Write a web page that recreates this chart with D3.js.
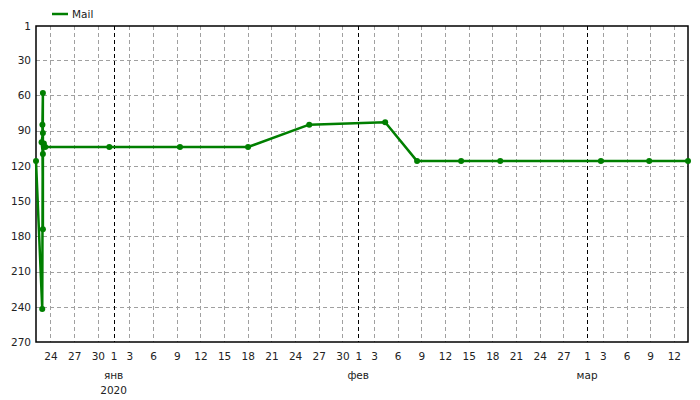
<!DOCTYPE html>
<html>
<head>
<meta charset="utf-8">
<script src="https://cdn.jsdelivr.net/npm/d3@7"></script>
<style>
  body { margin: 0; background: #fff; }
  svg { display: block; font-family: 'DejaVu Sans', Verdana, sans-serif; }
</style>
</head>
<body>
<svg width="700" height="400"></svg>
<script>
// Series "Mail": timestamps (UTC) and values, in drawing order
var dates = [
    "2019-12-22T04:00", "2019-12-22T23:00", "2019-12-23T01:00", "2019-12-22T23:30",
    "2019-12-23T01:00", "2019-12-23T01:00", "2019-12-22T21:00", "2019-12-23T01:00",
    "2019-12-23T04:00", "2019-12-23T08:00", "2019-12-31T11:00", "2020-01-09T10:00",
    "2020-01-18T01:00", "2020-01-25T19:00", "2020-02-04T10:00", "2020-02-08T11:00",
    "2020-02-14T01:00", "2020-02-19T00:00", "2020-03-02T18:00", "2020-03-08T21:00",
    "2020-03-13T19:00"
];
var values = [116, 242, 58, 85, 174, 92, 100, 110, 101, 104, 104, 104,
              104, 85, 83, 116, 116, 116, 116, 116, 116];

// Axis labels
var yTicks = [1, 30, 60, 90, 120, 150, 180, 210, 240, 270];
var monthNames = ["янв", "фев", "мар", "апр", "май", "июн",
                  "июл", "авг", "сен", "окт", "ноя", "дек"];
var seriesName = "Mail";

var parse = d3.utcParse("%Y-%m-%dT%H:%M");
var data = dates.map(function(d, i) { return { date: parse(d), value: values[i] }; });

var svg = d3.select('svg');
var plotLeft = 36, plotRight = 688, plotTop = 26, plotBottom = 342;
var green = '#007f00';
var labelColor = '#222';

// Time scale spans the data, value scale is inverted (1 on top)
var x = d3.scaleUtc()
    .domain(d3.extent(data, function(d) { return d.date; }))
    .range([plotLeft, plotRight]);
var y = d3.scaleLinear()
    .domain([1, 270])
    .range([plotTop, plotBottom]);

// Day ticks: first of month plus every third day
var xTicks = d3.utcDays(d3.utcDay.ceil(x.domain()[0]), x.domain()[1])
    .filter(function(d) { return d.getUTCDate() === 1 || d.getUTCDate() % 3 === 0; });
var monthStarts = xTicks.filter(function(d) { return d.getUTCDate() === 1; });

// Horizontal gridlines
svg.append('g')
    .selectAll('line')
    .data(yTicks.slice(1, -1))
    .enter()
    .append('line')
    .attr('x1', plotLeft).attr('x2', plotRight)
    .attr('y1', function(d) { return Math.round(y(d)) + 0.5; })
    .attr('y2', function(d) { return Math.round(y(d)) + 0.5; })
    .style('stroke', '#a0a0a0')
    .style('stroke-dasharray', '4,3');

// Vertical gridlines, month starts in black
svg.append('g')
    .selectAll('line')
    .data(xTicks)
    .enter()
    .append('line')
    .attr('x1', function(d) { return Math.round(x(d)) + 0.5; })
    .attr('x2', function(d) { return Math.round(x(d)) + 0.5; })
    .attr('y1', plotTop).attr('y2', plotBottom)
    .style('stroke', function(d) { return d.getUTCDate() === 1 ? '#000' : '#a0a0a0'; })
    .style('stroke-dasharray', '4,3');

// Frame
svg.append('rect')
    .attr('x', plotLeft).attr('y', plotTop)
    .attr('width', plotRight - plotLeft).attr('height', plotBottom - plotTop)
    .style('fill', 'none')
    .style('stroke', '#000')
    .style('stroke-width', 1.5);

// Y axis labels
var yAxis = svg.append('g')
    .attr('transform', 'translate(' + (plotLeft - 5) + ',0)')
    .call(d3.axisLeft(y).tickValues(yTicks).tickSize(0).tickPadding(0));
yAxis.select('.domain').remove();
yAxis.selectAll('text')
    .style('font-size', '10.5px')
    .style('fill', labelColor)
    .style('font-family', 'DejaVu Sans');

// X axis day labels
var xAxis = svg.append('g')
    .attr('transform', 'translate(0,' + (plotBottom + 11) + ')')
    .call(d3.axisBottom(x).tickValues(xTicks).tickFormat(d3.utcFormat('%-d')).tickSize(0).tickPadding(0));
xAxis.select('.domain').remove();
xAxis.selectAll('text')
    .style('font-size', '10.5px')
    .style('fill', labelColor)
    .style('font-family', 'DejaVu Sans');

// Month labels under each month start
svg.append('g')
    .selectAll('text')
    .data(monthStarts)
    .enter()
    .append('text')
    .attr('x', function(d) { return x(d); })
    .attr('y', 379)
    .style('text-anchor', 'middle')
    .style('font-size', '10.5px')
    .style('fill', labelColor)
    .text(function(d) { return monthNames[d.getUTCMonth()]; });

// Year label under the first January
svg.append('g')
    .selectAll('text')
    .data(monthStarts.filter(function(d) { return d.getUTCMonth() === 0; }))
    .enter()
    .append('text')
    .attr('x', function(d) { return x(d); })
    .attr('y', 394)
    .style('text-anchor', 'middle')
    .style('font-size', '10.5px')
    .style('fill', labelColor)
    .text(function(d) { return d.getUTCFullYear(); });

// Series line
var line = d3.line()
    .x(function(d) { return x(d.date); })
    .y(function(d) { return y(d.value); });

svg.append('path')
    .datum(data)
    .attr('d', line)
    .style('fill', 'none')
    .style('stroke', green)
    .style('stroke-width', 2.5)
    .style('stroke-linejoin', 'round');

// Series points
svg.append('g')
    .selectAll('circle')
    .data(data)
    .enter()
    .append('circle')
    .attr('cx', function(d) { return x(d.date); })
    .attr('cy', function(d) { return y(d.value); })
    .attr('r', 3)
    .style('fill', green);

// Legend
var legend = svg.append('g').attr('transform', 'translate(52,14)');
legend.append('line')
    .attr('x1', 0).attr('x2', 16)
    .style('stroke', green)
    .style('stroke-width', 2.5);
legend.append('text')
    .attr('x', 20)
    .attr('dy', '0.35em')
    .style('font-size', '10.5px')
    .style('fill', labelColor)
    .text(seriesName);
</script>
</body>
</html>
